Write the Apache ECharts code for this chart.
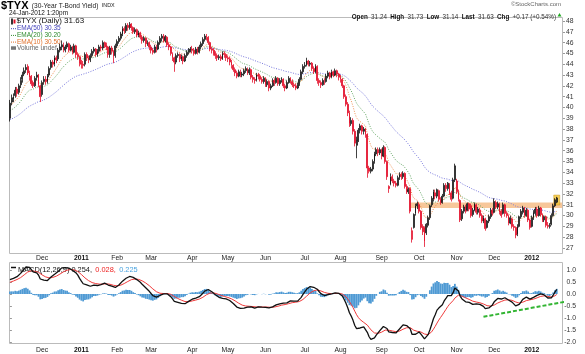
<!DOCTYPE html>
<html>
<head>
<meta charset="utf-8">
<script src="https://cdn.jsdelivr.net/npm/echarts@6/dist/echarts.min.js"></script>
<style>
  html, body { margin: 0; padding: 0; background: #fff; }
  #chart { width: 585px; height: 354px; }
</style>
</head>
<body>
<div id="chart"></div>
<script>
// trading calendar
const startDay = '2010-11-04'
const endDay = '2012-01-24'
const holidays = ['2010-11-25', '2010-12-24', '2011-01-17', '2011-02-21', '2011-04-22', '2011-05-30',
  '2011-07-04', '2011-09-05', '2011-11-24', '2011-12-26', '2012-01-02', '2012-01-16']
const padDays = ['p1', 'p2', 'p3']
const monthNames = ['Jan', 'Feb', 'Mar', 'Apr', 'May', 'Jun', 'Jul', 'Aug', 'Sep', 'Oct', 'Nov', 'Dec']

// $TYX daily candles (yield x10)
const opens = [
  39.0, 40.5, 40.8, 41.1, 41.7, 41.4, 42.1, 42.6, 43.1, 43.5,
  43.8, 43.2, 42.9, 42.3, 42.0, 42.8, 43.0, 42.0, 41.2, 42.4,
  42.6, 42.4, 43.0, 43.7, 44.2, 44.0, 44.6, 44.5, 45.3, 45.6,
  45.8, 45.3, 45.6, 45.9, 45.3, 45.6, 45.1, 45.7, 44.9, 44.7,
  44.1, 44.0, 44.0, 44.9, 44.6, 44.4, 44.8, 45.2, 45.4, 44.9,
  45.2, 45.6, 45.5, 46.0, 45.8, 45.6, 44.9, 45.5, 45.2, 44.8,
  45.7, 46.1, 46.4, 46.8, 47.3, 47.1, 47.6, 47.4, 47.7, 47.4,
  47.0, 47.2, 46.7, 46.9, 46.5, 46.2, 46.4, 45.9, 46.0, 45.6,
  45.3, 45.1, 45.6, 45.4, 46.0, 46.4, 46.6, 46.2, 46.5, 45.8,
  45.6, 45.0, 44.6, 44.2, 44.8, 44.9, 44.5, 44.7, 44.3, 44.8,
  45.1, 45.3, 45.4, 45.3, 45.0, 45.4, 45.1, 45.6, 45.9, 46.3,
  46.6, 46.5, 46.0, 45.4, 45.3, 45.0, 44.8, 44.6, 44.7, 44.5,
  45.0, 44.9, 44.6, 44.5, 44.2, 43.9, 43.5, 43.2, 42.9, 43.3,
  43.0, 43.1, 43.4, 43.6, 43.2, 43.5, 42.8, 42.6, 42.5, 43.0,
  42.9, 42.6, 42.4, 42.7, 42.1, 42.4, 41.8, 42.0, 42.5, 42.3,
  42.7, 42.2, 42.5, 42.6, 42.0, 41.8, 42.3, 42.7, 42.4, 42.1,
  42.0, 41.8, 42.1, 42.6, 43.3, 43.8, 43.9, 44.3, 44.0, 44.1,
  43.6, 43.3, 43.8, 42.5, 42.3, 42.1, 42.5, 42.4, 42.9, 43.2,
  42.8, 43.3, 43.0, 43.4, 43.1, 42.8, 42.6, 42.0, 41.0, 40.3,
  39.5, 38.5, 38.8, 37.8, 36.5, 37.0, 37.9, 38.3, 37.8, 38.0,
  37.5, 34.4, 34.1, 34.3, 35.0, 35.7, 36.1, 35.8, 36.1, 35.5,
  36.3, 35.0, 32.7, 32.9, 33.6, 33.2, 33.0, 32.8, 33.5, 33.8,
  33.6, 33.9, 32.7, 32.2, 32.5, 27.8, 28.9, 30.2, 30.9, 31.0,
  30.4, 29.0, 28.9, 28.4, 29.1, 29.8, 31.0, 31.5, 32.1, 31.8,
  32.3, 31.5, 31.2, 31.8, 32.8, 32.5, 32.9, 32.1, 31.6, 33.3,
  33.2, 32.2, 31.4, 29.7, 30.4, 30.8, 30.5, 31.1, 30.9, 30.1,
  30.5, 31.0, 30.3, 30.5, 30.0, 29.5, 29.7, 28.9, 29.5, 29.9,
  30.5, 30.3, 31.2, 30.8, 31.1, 30.4, 30.2, 31.0, 30.2, 30.0,
  29.3, 29.7, 29.0, 28.9, 28.3, 29.0, 29.9, 30.3, 30.7, 30.0,
  30.5, 29.6, 29.0, 29.8, 30.2, 30.6, 30.0, 30.7, 30.1, 29.6,
  29.9, 29.1, 29.0, 29.2, 30.0, 30.9, 31.24
]
const closes = [
  40.4, 40.9, 41.0, 41.6, 41.3, 42.0, 42.5, 43.0, 43.4, 43.7,
  43.2, 42.8, 42.2, 42.0, 42.7, 43.0, 42.1, 41.0, 42.3, 42.6,
  42.4, 42.9, 43.6, 44.2, 44.0, 44.6, 44.4, 45.3, 45.6, 45.8,
  45.3, 45.6, 45.9, 45.3, 45.6, 45.1, 45.7, 44.9, 44.7, 44.1,
  44.0, 43.9, 44.9, 44.6, 44.4, 44.8, 45.2, 45.4, 44.9, 45.2,
  45.6, 45.5, 46.0, 45.8, 45.6, 44.9, 45.5, 45.2, 44.7, 45.7,
  46.1, 46.4, 46.8, 47.3, 47.1, 47.6, 47.4, 47.7, 47.4, 47.0,
  47.2, 46.7, 46.9, 46.5, 46.2, 46.4, 45.9, 46.0, 45.6, 45.3,
  45.1, 45.6, 45.4, 46.0, 46.4, 46.6, 46.2, 46.5, 45.8, 45.6,
  45.0, 44.6, 44.2, 44.8, 44.9, 44.5, 44.7, 44.3, 44.8, 45.1,
  45.3, 45.4, 45.3, 45.0, 45.4, 45.1, 45.6, 45.9, 46.3, 46.6,
  46.5, 46.0, 45.4, 45.3, 45.0, 44.8, 44.6, 44.7, 44.5, 45.0,
  44.9, 44.6, 44.5, 44.2, 43.9, 43.5, 43.2, 42.9, 43.3, 43.0,
  43.1, 43.4, 43.6, 43.2, 43.5, 42.8, 42.6, 42.5, 43.0, 42.9,
  42.6, 42.4, 42.7, 42.1, 42.4, 41.8, 42.0, 42.5, 42.3, 42.7,
  42.2, 42.5, 42.6, 42.0, 41.8, 42.3, 42.7, 42.4, 42.1, 42.0,
  41.8, 42.1, 42.6, 43.3, 43.8, 43.9, 44.3, 44.0, 44.1, 43.6,
  43.3, 43.8, 42.5, 42.3, 42.1, 42.5, 42.4, 42.9, 43.2, 42.8,
  43.3, 43.0, 43.4, 43.1, 42.8, 42.6, 42.0, 41.0, 40.3, 39.5,
  38.5, 38.8, 37.8, 36.7, 37.0, 37.9, 38.3, 37.8, 38.0, 37.5,
  34.4, 34.1, 34.3, 35.0, 35.7, 36.1, 35.8, 36.1, 35.5, 36.3,
  35.0, 33.6, 32.5, 33.6, 33.2, 33.0, 32.8, 33.5, 33.8, 33.6,
  33.9, 32.7, 32.2, 32.4, 30.4, 28.6, 30.1, 30.9, 31.1, 30.4,
  28.9, 28.5, 27.6, 29.2, 29.8, 30.9, 31.6, 32.2, 31.8, 32.4,
  31.5, 31.2, 31.8, 32.8, 32.5, 33.0, 32.1, 31.5, 33.3, 34.6,
  32.2, 31.5, 29.6, 30.4, 30.8, 30.4, 31.1, 30.6, 30.0, 30.5,
  31.1, 30.3, 30.6, 30.0, 29.5, 29.8, 28.8, 29.5, 29.9, 30.5,
  30.2, 31.3, 30.8, 31.1, 30.3, 30.0, 31.0, 30.2, 30.0, 29.3,
  29.8, 29.0, 28.9, 28.2, 29.0, 29.9, 30.4, 30.7, 30.0, 30.5,
  29.6, 28.9, 29.8, 30.3, 30.6, 30.0, 30.7, 30.1, 29.6, 29.9,
  29.1, 29.0, 29.1, 30.0, 30.9, 31.46, 31.63
]
const lows = [
  38.7, 40.2, 40.5, 40.9, 41.0, 41.2, 41.8, 42.3, 42.9, 43.2,
  43.0, 42.5, 42.0, 41.8, 41.9, 42.5, 41.9, 40.5, 41.0, 42.1,
  42.1, 42.2, 42.8, 43.5, 43.7, 43.8, 44.1, 44.3, 45.1, 45.3,
  45.1, 45.1, 45.4, 45.1, 45.2, 44.9, 45.0, 44.6, 44.4, 43.8,
  43.6, 43.6, 43.8, 44.3, 44.1, 44.2, 44.6, 45.0, 44.7, 44.7,
  45.0, 45.2, 45.3, 45.5, 45.3, 44.6, 44.6, 44.9, 44.1, 44.6,
  45.5, 45.9, 46.2, 46.6, 46.8, 46.9, 47.1, 47.2, 47.1, 46.8,
  46.8, 46.5, 46.5, 46.3, 45.9, 46.0, 45.6, 45.7, 45.3, 45.0,
  44.9, 45.0, 45.1, 45.3, 45.8, 46.1, 46.0, 46.0, 45.6, 45.3,
  44.8, 44.3, 43.3, 44.0, 44.6, 44.2, 44.3, 44.0, 44.2, 44.6,
  44.9, 45.1, 45.0, 44.8, 44.9, 44.9, 45.0, 45.4, 45.7, 46.1,
  46.2, 45.8, 45.2, 45.0, 44.8, 44.5, 44.3, 44.4, 44.3, 44.4,
  44.6, 44.3, 44.2, 43.9, 43.6, 43.3, 42.9, 42.7, 42.8, 42.8,
  42.8, 42.9, 43.2, 43.0, 43.0, 42.6, 42.3, 42.2, 42.4, 42.6,
  42.4, 42.2, 42.2, 41.9, 41.9, 41.5, 41.6, 41.9, 42.0, 42.2,
  42.0, 42.0, 42.3, 41.8, 41.5, 41.7, 42.2, 42.2, 41.9, 41.8,
  41.6, 41.7, 42.0, 42.5, 43.1, 43.6, 43.8, 43.8, 43.8, 43.4,
  43.1, 43.2, 42.2, 42.0, 41.8, 42.0, 42.1, 42.3, 42.7, 42.6,
  42.7, 42.8, 42.9, 42.8, 42.5, 42.3, 41.8, 40.8, 40.1, 39.2,
  38.2, 38.3, 37.5, 36.4, 35.3, 36.8, 37.6, 37.5, 37.5, 37.2,
  33.5, 33.9, 33.9, 34.1, 34.8, 35.5, 35.5, 35.6, 35.2, 35.4,
  34.8, 33.3, 32.1, 32.8, 33.0, 32.7, 32.6, 32.7, 33.3, 33.3,
  33.4, 32.5, 32.0, 32.0, 30.2, 27.5, 28.8, 30.0, 30.6, 30.2,
  28.7, 28.2, 27.1, 28.2, 28.9, 29.6, 30.8, 31.3, 31.5, 31.6,
  31.3, 31.0, 31.1, 31.7, 32.2, 32.3, 31.9, 31.3, 31.5, 33.1,
  32.0, 31.3, 29.4, 29.5, 30.2, 30.2, 30.4, 30.4, 29.8, 29.9,
  30.4, 30.1, 30.1, 29.8, 29.3, 29.3, 28.6, 28.8, 29.3, 29.7,
  30.0, 30.2, 30.6, 30.6, 30.1, 29.8, 30.1, 29.9, 29.8, 29.1,
  29.2, 28.8, 28.6, 27.9, 28.1, 28.9, 29.7, 30.1, 29.8, 29.9,
  29.4, 28.7, 28.9, 29.6, 30.0, 29.8, 29.9, 29.9, 29.4, 29.4,
  28.9, 28.8, 28.8, 29.1, 29.9, 30.8, 31.14
]
const highs = [
  40.7, 41.2, 41.3, 41.9, 41.9, 42.2, 42.8, 43.3, 43.7, 44.0,
  44.0, 43.4, 43.0, 42.5, 42.9, 43.3, 43.1, 42.1, 42.5, 42.9,
  42.9, 43.1, 43.8, 44.4, 44.4, 44.8, 44.8, 45.5, 45.9, 46.2,
  46.0, 45.8, 46.1, 46.0, 45.8, 45.7, 45.9, 45.8, 45.1, 44.8,
  44.4, 44.3, 45.1, 45.1, 44.8, 45.0, 45.4, 45.6, 45.5, 45.4,
  45.8, 45.8, 46.2, 46.1, 46.0, 45.7, 45.7, 45.7, 45.3, 45.9,
  46.3, 46.6, 47.0, 47.5, 47.5, 47.8, 47.8, 47.9, 47.8, 47.5,
  47.4, 47.3, 47.1, 47.0, 46.7, 46.6, 46.5, 46.2, 46.1, 45.8,
  45.5, 45.8, 45.8, 46.2, 46.6, 46.8, 46.8, 46.7, 46.6, 46.0,
  45.7, 45.1, 44.7, 45.0, 45.1, 45.0, 44.9, 44.8, 45.0, 45.3,
  45.5, 45.6, 45.7, 45.5, 45.6, 45.6, 45.8, 46.1, 46.5, 46.8,
  46.8, 46.6, 46.1, 45.6, 45.5, 45.2, 45.0, 44.9, 44.9, 45.2,
  45.2, 45.0, 44.8, 44.7, 44.4, 44.0, 43.7, 43.4, 43.5, 43.5,
  43.3, 43.6, 43.8, 43.7, 43.7, 43.6, 43.0, 42.8, 43.2, 43.2,
  43.1, 42.8, 42.9, 42.8, 42.6, 42.5, 42.2, 42.7, 42.7, 42.9,
  42.8, 42.7, 42.8, 42.7, 42.2, 42.5, 42.9, 42.8, 42.6, 42.3,
  42.2, 42.3, 42.8, 43.5, 44.0, 44.2, 44.6, 44.4, 44.3, 44.2,
  43.8, 44.0, 43.9, 42.7, 42.5, 42.7, 42.7, 43.1, 43.4, 43.3,
  43.5, 43.4, 43.6, 43.5, 43.2, 43.0, 42.7, 42.1, 41.2, 40.5,
  39.7, 39.1, 39.0, 38.0, 37.3, 38.1, 38.5, 38.4, 38.2, 38.1,
  37.6, 34.6, 34.5, 35.2, 35.9, 36.3, 36.3, 36.3, 36.2, 36.5,
  36.4, 35.1, 32.8, 33.9, 33.8, 33.4, 33.2, 33.7, 34.0, 34.0,
  34.1, 34.0, 32.9, 32.6, 32.6, 28.9, 30.2, 31.1, 31.3, 31.2,
  30.5, 29.2, 29.0, 29.3, 30.0, 31.0, 31.8, 32.4, 32.4, 32.5,
  32.4, 31.7, 32.0, 33.0, 33.0, 33.1, 33.0, 32.3, 33.5, 34.8,
  33.4, 32.4, 31.5, 30.6, 31.0, 31.0, 31.2, 31.2, 31.1, 30.7,
  31.2, 31.1, 30.8, 30.7, 30.2, 30.0, 29.8, 29.6, 30.1, 30.7,
  30.7, 31.6, 31.4, 31.3, 31.2, 30.6, 31.2, 31.1, 30.4, 30.1,
  30.0, 29.8, 29.2, 29.0, 29.2, 30.0, 30.6, 30.9, 30.8, 30.7,
  30.6, 29.7, 30.0, 30.5, 30.8, 30.8, 30.9, 30.8, 30.2, 30.0,
  30.0, 29.4, 29.3, 30.2, 31.1, 31.6, 31.73
]

// indicator levels at the left edge of the chart: EMA(10), EMA(20), EMA(50)
const emaStart = [40.1, 39.6, 38.8]
// MACD start: EMA(12), EMA(26), signal
const macdStart = [39.9, 39.3, 0.46]

// horizontal support band and MACD trend line (drawn in axis units)
const bandRange = [30.7, 31.2]
const bandStartIndex = 224
const trendLine = [[265, -0.95], [318, -0.22]]

// legend / header texts
const priceLegend = ['$TYX (Daily) 31.63', 'EMA(50) 30.35', 'EMA(20) 30.20', 'EMA(10) 30.50', 'Volume undef']
const macdLegend = ['MACD(12,26,9) 0.254,', '0.028,', '0.225']
const quoteLabels = ['Open', 'High', 'Low', 'Last', 'Chg']
const quoteValues = ['31.24', '31.73', '31.14', '31.63', '+0.17 (+0.54%)']

const FONT = 'Liberation Sans, Arial, sans-serif'

function tradingDays () {
  const out = []
  const d = new Date(startDay + 'T12:00:00Z')
  const end = new Date(endDay + 'T12:00:00Z')
  while (d <= end) {
    const wd = d.getUTCDay()
    const s = d.toISOString().slice(0, 10)
    if (wd !== 0 && wd !== 6 && holidays.indexOf(s) < 0) out.push(s)
    d.setUTCDate(d.getUTCDate() + 1)
  }
  return out
}

// exponential moving average, starting from a given level
function ema (src, n, start) {
  const k = 2 / (n + 1)
  const out = []
  let prev = start
  src.forEach(function (v) {
    prev = v * k + prev * (1 - k)
    out.push(+prev.toFixed(3))
  })
  return out
}

const days = tradingDays()
const categories = days.concat(padDays)
const monthStart = categories.map(function (s, i) {
  return i > 0 && i < days.length && s.slice(0, 7) !== categories[i - 1].slice(0, 7)
})

const ema10 = ema(closes, 10, emaStart[0])
const ema20 = ema(closes, 20, emaStart[1])
const ema50 = ema(closes, 50, emaStart[2])
const ema12 = ema(closes, 12, macdStart[0])
const ema26 = ema(closes, 26, macdStart[1])
const macd = ema12.map(function (v, i) { return +(v - ema26[i]).toFixed(3) })
const signal = ema(macd, 9, macdStart[2])
const hist = macd.map(function (v, i) { return +(v - signal[i]).toFixed(3) })

const candleData = closes.map(function (c, i) {
  const o = opens[i]
  const prev = i ? closes[i - 1] : o
  const up = c >= prev
  const line = up ? '#111111' : '#e3102b'
  const fill = c > o ? (up ? '#8a8a8a' : '#f3a0aa') : line
  return {
    value: [o, c, lows[i], highs[i]],
    itemStyle: { color: fill, color0: fill, borderColor: line, borderColor0: line, borderWidth: 0.8 }
  }
})
const last = closes.length - 1

function monthLabel (value) {
  const m = +value.slice(5, 7)
  return m === 1 ? '{y|' + value.slice(0, 4) + '}' : '{m|' + monthNames[m - 1] + '}'
}

const xLabel = {
  interval: function (i) { return monthStart[i] },
  formatter: monthLabel,
  rich: {
    m: { fontSize: 6.8, color: '#222', fontFamily: FONT },
    y: { fontSize: 6.8, color: '#111', fontWeight: 'bold', fontFamily: FONT }
  }
}

// header graphics
const quoteRich = { l: { fontWeight: 'bold', fontSize: 6.3, fill: '#111', fontFamily: FONT }, v: { fontSize: 6.3, fill: '#333', fontFamily: FONT } }
const quoteText = quoteLabels.map(function (l, i) { return '{l|' + l + '} {v|' + quoteValues[i] + '}' }).join(' ')

const legendColors = ['#111', '#4444bb', '#2e8b2e', '#e0702a', '#666']
const graphics = [
  { type: 'rect', shape: { x: 9.5, y: 17.5, width: 553, height: 236 }, style: { fill: 'none', stroke: '#bbb', lineWidth: 1 }, silent: true },
  { type: 'rect', shape: { x: 9.5, y: 262.5, width: 553, height: 81 }, style: { fill: 'none', stroke: '#bbb', lineWidth: 1 }, silent: true },
  {
    type: 'text', left: 1, top: 0,
    style: {
      text: '{a|$TYX} {b|(30-Year T-Bond Yield)} {c|INDX}',
      rich: {
        a: { fontSize: 11, fontWeight: 'bold', fill: '#000', fontFamily: FONT },
        b: { fontSize: 6.6, fill: '#222', fontFamily: FONT },
        c: { fontSize: 5.4, fill: '#222', fontFamily: FONT }
      }
    }
  },
  { type: 'text', left: 9, top: 10.5, style: { text: '24-Jan-2012 1:20pm', fontSize: 6.4, fill: '#111', fontFamily: FONT } },
  { type: 'text', right: 24, top: 1.5, style: { text: '©StockCharts.com', fontSize: 6, fill: '#666', fontFamily: FONT } },
  { type: 'text', right: 29, top: 11, style: { text: quoteText, rich: quoteRich } },
  { type: 'polygon', shape: { points: [[557.5, 16.5], [561.5, 16.5], [559.5, 13]] }, style: { fill: '#22aa22' } },
  { type: 'rect', shape: { x: 11, y: 18.5, width: 2, height: 6 }, style: { fill: '#333' } },
  { type: 'rect', shape: { x: 13.5, y: 19.5, width: 2, height: 4 }, style: { fill: '#e3102b' } },
  { type: 'text', left: 16.5, top: 17, style: { text: priceLegend[0], fontSize: 8, fill: legendColors[0], fontFamily: FONT } }
]
for (let k = 1; k < priceLegend.length; k++) {
  const yy = 21.5 + k * 6.7
  if (k < 4) {
    graphics.push({ type: 'line', shape: { x1: 11, y1: yy + 0.5, x2: 16, y2: yy + 0.5 }, style: { stroke: legendColors[k], lineWidth: 1, lineDash: [1, 1] } })
  } else {
    graphics.push({ type: 'rect', shape: { x: 11, y: yy - 2, width: 5, height: 3.5 }, style: { fill: '#777' } })
  }
  graphics.push({ type: 'text', left: 17, top: yy - 3.3, style: { text: priceLegend[k], fontSize: 6.5, fill: legendColors[k], fontFamily: FONT } })
}
graphics.push({ type: 'line', shape: { x1: 11, y1: 267.5, x2: 16, y2: 267.5 }, style: { stroke: '#111', lineWidth: 1.5 } })
graphics.push({
  type: 'text', left: 18, top: 263.5,
  style: {
    text: '{a|' + macdLegend[0] + '} {b|' + macdLegend[1] + '} {c|' + macdLegend[2] + '}',
    rich: {
      a: { fontSize: 7.4, fill: '#111', fontFamily: FONT },
      b: { fontSize: 7.4, fill: '#ee2222', fontFamily: FONT },
      c: { fontSize: 7.4, fill: '#4aa3df', fontFamily: FONT }
    }
  }
})

const option = {
  animation: false,
  backgroundColor: '#fff',
  textStyle: { fontFamily: FONT },
  graphic: graphics,
  grid: [
    { left: 9, right: 22, top: 21, height: 227 },
    { left: 9, right: 22, top: 270, height: 72 }
  ],
  xAxis: [
    { type: 'category', gridIndex: 0, data: categories, boundaryGap: true, axisLine: { show: false }, axisTick: { show: false }, axisLabel: Object.assign({ margin: 7 }, xLabel) },
    { type: 'category', gridIndex: 1, data: categories, boundaryGap: true, axisLine: { show: false }, axisTick: { show: false }, axisLabel: Object.assign({ margin: 5 }, xLabel) },
    { type: 'value', gridIndex: 1, min: -0.5, max: categories.length - 0.5, show: false }
  ],
  yAxis: [
    {
      type: 'value', gridIndex: 0, position: 'right', min: 27, max: 48, interval: 1,
      splitLine: { show: false }, axisLine: { show: false },
      axisTick: { show: true, length: 2, lineStyle: { color: '#999' } },
      axisLabel: { fontSize: 6.8, color: '#333', margin: 3, fontFamily: FONT }
    },
    {
      type: 'value', gridIndex: 1, position: 'right', min: -2, max: 1, interval: 0.5,
      splitLine: { show: false }, axisLine: { show: false },
      axisTick: { show: true, length: 2, lineStyle: { color: '#999' } },
      axisLabel: { fontSize: 6.8, color: '#333', margin: 13, align: 'right', fontFamily: FONT, formatter: function (v) { return v.toFixed(1) } }
    }
  ],
  series: [
    {
      name: 'EMA(50)', type: 'line', xAxisIndex: 0, yAxisIndex: 0, data: ema50, showSymbol: false, z: 2,
      lineStyle: { color: '#7777dd', width: 1, type: [1, 1.5] },
      markArea: {
        silent: true,
        itemStyle: { color: '#f7c79a' },
        data: [[{ xAxis: bandStartIndex, yAxis: bandRange[0] }, { xAxis: categories.length - 1, yAxis: bandRange[1] }]]
      }
    },
    { name: 'EMA(20)', type: 'line', xAxisIndex: 0, yAxisIndex: 0, data: ema20, showSymbol: false, z: 2, lineStyle: { color: '#66a866', width: 1, type: [1, 1.5] } },
    { name: 'EMA(10)', type: 'line', xAxisIndex: 0, yAxisIndex: 0, data: ema10, showSymbol: false, z: 2, lineStyle: { color: '#f0904f', width: 1, type: [1, 1.5] } },
    {
      name: 'last', type: 'scatter', xAxisIndex: 0, yAxisIndex: 0, z: 3, silent: true,
      data: [[last, (lows[last] + highs[last]) / 2]],
      symbol: 'rect', symbolSize: [6, 10],
      itemStyle: { color: '#f2c230', borderColor: '#c08a00', borderWidth: 0.5 }
    },
    { name: '$TYX', type: 'candlestick', xAxisIndex: 0, yAxisIndex: 0, data: candleData, barWidth: '75%', z: 4 },
    {
      name: 'hist', type: 'bar', xAxisIndex: 1, yAxisIndex: 1, data: hist, barCategoryGap: '0%', z: 2,
      itemStyle: { color: '#4f9ad4' }
    },
    { name: 'signal', type: 'line', xAxisIndex: 1, yAxisIndex: 1, data: signal, showSymbol: false, clip: false, z: 3, lineStyle: { color: '#f03a3a', width: 1 } },
    { name: 'MACD', type: 'line', xAxisIndex: 1, yAxisIndex: 1, data: macd, showSymbol: false, clip: false, z: 4, lineStyle: { color: '#111', width: 1.3 } },
    {
      name: 'trend', type: 'line', xAxisIndex: 2, yAxisIndex: 1, data: trendLine, showSymbol: false, clip: false, z: 5,
      lineStyle: { color: '#33b533', width: 2, type: [4, 2] }
    }
  ]
}

const chart = echarts.init(document.getElementById('chart'))
chart.setOption(option)
</script>
</body>
</html>
